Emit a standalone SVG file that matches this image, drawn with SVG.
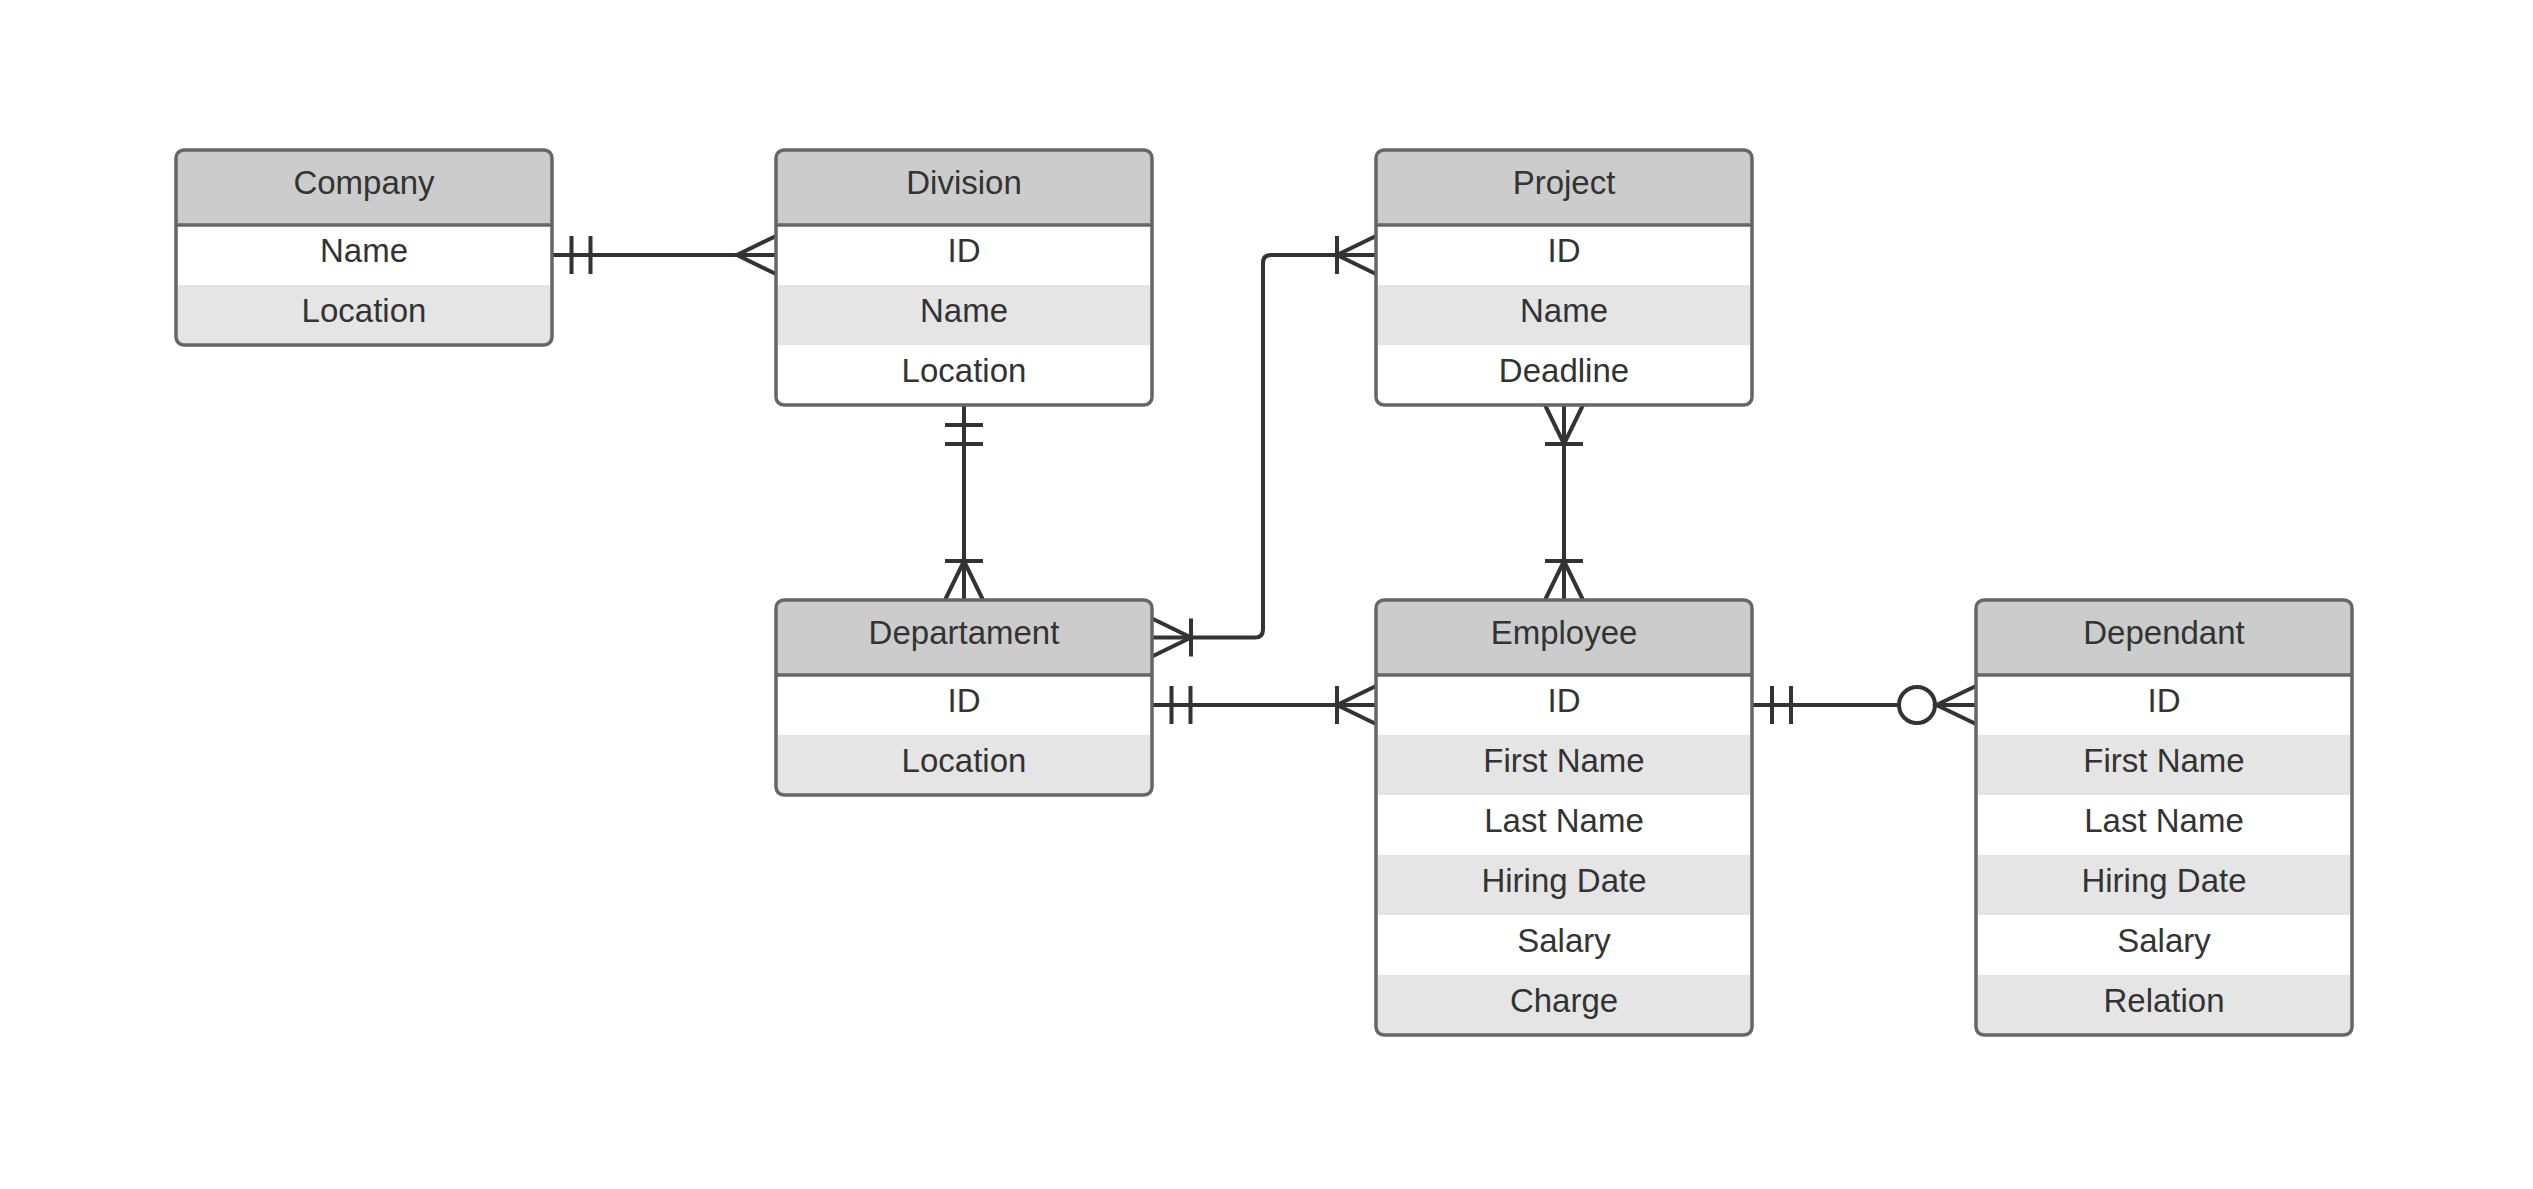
<svg xmlns="http://www.w3.org/2000/svg" width="2533" height="1189" viewBox="0 0 2533 1189">
<style>
.hdr{fill:#cccccc}
.alt{fill:#e5e5e5}
.row{fill:#ffffff}
.border{fill:none;stroke:#666666;stroke-width:3.5}
.div{stroke:#666666;stroke-width:3.5}
.t{font-family:"Liberation Sans",Arial,sans-serif;font-size:33px;fill:#333333;text-anchor:middle}
.c{fill:none;stroke:#333333;stroke-width:4;stroke-linejoin:miter}
</style>
<defs>
<clipPath id="c2" clipPathUnits="userSpaceOnUse"><rect x="0" y="0" width="376" height="195" rx="8"/></clipPath>
<clipPath id="c3" clipPathUnits="userSpaceOnUse"><rect x="0" y="0" width="376" height="255" rx="8"/></clipPath>
<clipPath id="c6" clipPathUnits="userSpaceOnUse"><rect x="0" y="0" width="376" height="435" rx="8"/></clipPath>
</defs>
<rect x="0" y="0" width="2533" height="1189" fill="#ffffff"/>

<g id="connectors">
  <!-- Company - Division -->
  <path class="c" d="M552,255 H776"/>
  <path class="c" d="M571.5,236 V274 M590.5,236 V274"/>
  <path class="c" d="M776,236 L737,255 L776,274"/>
  <!-- Division - Departament -->
  <path class="c" d="M964,405 V600"/>
  <path class="c" d="M945,425 H983 M945,444 H983"/>
  <path class="c" d="M945,600 L964,561 L983,600 M945,561 H983"/>
  <!-- Departament - Project -->
  <path class="c" d="M1152,637.5 H1255 Q1263,637.5 1263,629.5 V263 Q1263,255 1271,255 H1376"/>
  <path class="c" d="M1152,618.5 L1191,637.5 L1152,656.5 M1191,618.5 V656.5"/>
  <path class="c" d="M1376,236 L1337,255 L1376,274 M1337,236 V274"/>
  <!-- Departament - Employee -->
  <path class="c" d="M1152,705 H1376"/>
  <path class="c" d="M1171.5,686 V724 M1190.5,686 V724"/>
  <path class="c" d="M1376,686 L1337,705 L1376,724 M1337,686 V724"/>
  <!-- Project - Employee -->
  <path class="c" d="M1564,405 V600"/>
  <path class="c" d="M1545,405 L1564,444 L1583,405 M1545,444 H1583"/>
  <path class="c" d="M1545,600 L1564,561 L1583,600 M1545,561 H1583"/>
  <!-- Employee - Dependant -->
  <path class="c" d="M1752,705 H1899 M1935,705 H1976"/>
  <path class="c" d="M1772,686 V724 M1791,686 V724"/>
  <circle class="c" cx="1917" cy="705" r="18" fill="#ffffff" style="fill:#ffffff"/>
  <path class="c" d="M1976,686 L1936.5,705 L1976,724"/>
</g>

<g id="company" transform="translate(176,150)">
  <g clip-path="url(#c2)">
    <rect class="hdr" x="0" y="0" width="376" height="75"/>
    <rect class="row" x="0" y="75" width="376" height="60"/>
    <rect class="alt" x="0" y="135" width="376" height="60"/>
  </g>
  <line class="div" x1="0" y1="75" x2="376" y2="75"/>
  <rect class="border" x="0" y="0" width="376" height="195" rx="8"/>
  <text class="t" x="188" y="44">Company</text>
  <text class="t" x="188" y="112">Name</text>
  <text class="t" x="188" y="172">Location</text>
</g>

<g id="division" transform="translate(776,150)">
  <g clip-path="url(#c3)">
    <rect class="hdr" x="0" y="0" width="376" height="75"/>
    <rect class="row" x="0" y="75" width="376" height="60"/>
    <rect class="alt" x="0" y="135" width="376" height="60"/>
    <rect class="row" x="0" y="195" width="376" height="60"/>
  </g>
  <line class="div" x1="0" y1="75" x2="376" y2="75"/>
  <rect class="border" x="0" y="0" width="376" height="255" rx="8"/>
  <text class="t" x="188" y="44">Division</text>
  <text class="t" x="188" y="112">ID</text>
  <text class="t" x="188" y="172">Name</text>
  <text class="t" x="188" y="232">Location</text>
</g>

<g id="project" transform="translate(1376,150)">
  <g clip-path="url(#c3)">
    <rect class="hdr" x="0" y="0" width="376" height="75"/>
    <rect class="row" x="0" y="75" width="376" height="60"/>
    <rect class="alt" x="0" y="135" width="376" height="60"/>
    <rect class="row" x="0" y="195" width="376" height="60"/>
  </g>
  <line class="div" x1="0" y1="75" x2="376" y2="75"/>
  <rect class="border" x="0" y="0" width="376" height="255" rx="8"/>
  <text class="t" x="188" y="44">Project</text>
  <text class="t" x="188" y="112">ID</text>
  <text class="t" x="188" y="172">Name</text>
  <text class="t" x="188" y="232">Deadline</text>
</g>

<g id="departament" transform="translate(776,600)">
  <g clip-path="url(#c2)">
    <rect class="hdr" x="0" y="0" width="376" height="75"/>
    <rect class="row" x="0" y="75" width="376" height="60"/>
    <rect class="alt" x="0" y="135" width="376" height="60"/>
  </g>
  <line class="div" x1="0" y1="75" x2="376" y2="75"/>
  <rect class="border" x="0" y="0" width="376" height="195" rx="8"/>
  <text class="t" x="188" y="44">Departament</text>
  <text class="t" x="188" y="112">ID</text>
  <text class="t" x="188" y="172">Location</text>
</g>

<g id="employee" transform="translate(1376,600)">
  <g clip-path="url(#c6)">
    <rect class="hdr" x="0" y="0" width="376" height="75"/>
    <rect class="row" x="0" y="75" width="376" height="60"/>
    <rect class="alt" x="0" y="135" width="376" height="60"/>
    <rect class="row" x="0" y="195" width="376" height="60"/>
    <rect class="alt" x="0" y="255" width="376" height="60"/>
    <rect class="row" x="0" y="315" width="376" height="60"/>
    <rect class="alt" x="0" y="375" width="376" height="60"/>
  </g>
  <line class="div" x1="0" y1="75" x2="376" y2="75"/>
  <rect class="border" x="0" y="0" width="376" height="435" rx="8"/>
  <text class="t" x="188" y="44">Employee</text>
  <text class="t" x="188" y="112">ID</text>
  <text class="t" x="188" y="172">First Name</text>
  <text class="t" x="188" y="232">Last Name</text>
  <text class="t" x="188" y="292">Hiring Date</text>
  <text class="t" x="188" y="352">Salary</text>
  <text class="t" x="188" y="412">Charge</text>
</g>

<g id="dependant" transform="translate(1976,600)">
  <g clip-path="url(#c6)">
    <rect class="hdr" x="0" y="0" width="376" height="75"/>
    <rect class="row" x="0" y="75" width="376" height="60"/>
    <rect class="alt" x="0" y="135" width="376" height="60"/>
    <rect class="row" x="0" y="195" width="376" height="60"/>
    <rect class="alt" x="0" y="255" width="376" height="60"/>
    <rect class="row" x="0" y="315" width="376" height="60"/>
    <rect class="alt" x="0" y="375" width="376" height="60"/>
  </g>
  <line class="div" x1="0" y1="75" x2="376" y2="75"/>
  <rect class="border" x="0" y="0" width="376" height="435" rx="8"/>
  <text class="t" x="188" y="44">Dependant</text>
  <text class="t" x="188" y="112">ID</text>
  <text class="t" x="188" y="172">First Name</text>
  <text class="t" x="188" y="232">Last Name</text>
  <text class="t" x="188" y="292">Hiring Date</text>
  <text class="t" x="188" y="352">Salary</text>
  <text class="t" x="188" y="412">Relation</text>
</g>
</svg>
